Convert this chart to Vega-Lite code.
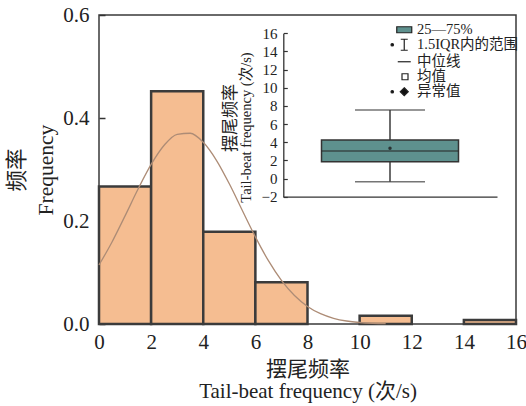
{
  "$schema": "https://vega.github.io/schema/vega-lite/v6.json",
  "width": 417,
  "height": 309,
  "autosize": {"type": "none"},
  "padding": {"left": 99, "top": 15, "right": 10, "bottom": 82},
  "background": "white",
  "config": {
    "view": {"stroke": "#3a3a3a", "strokeWidth": 1.5},
    "font": "Liberation Serif, Noto Sans CJK SC",
    "axis": {
      "labelFont": "Liberation Serif, Noto Sans CJK SC",
      "titleFont": "Liberation Serif, Noto Sans CJK SC",
      "labelColor": "#222222",
      "titleColor": "#222222",
      "titleFontWeight": "normal",
      "grid": false,
      "labelOverlap": false,
      "labelSeparation": 0,
      "labelFlush": false
    }
  },
  "datasets": {
    "hist": [
      {"bin_start": 0, "bin_end": 2, "freq": 0.267},
      {"bin_start": 2, "bin_end": 4, "freq": 0.452},
      {"bin_start": 4, "bin_end": 6, "freq": 0.179},
      {"bin_start": 6, "bin_end": 8, "freq": 0.081},
      {"bin_start": 10, "bin_end": 12, "freq": 0.016},
      {"bin_start": 14, "bin_end": 16, "freq": 0.008}
    ],
    "curve": [
      {"x": 0, "density": 0.1145},
      {"x": 0.5, "density": 0.1593},
      {"x": 1, "density": 0.2099},
      {"x": 1.5, "density": 0.262},
      {"x": 2, "density": 0.3098},
      {"x": 2.5, "density": 0.3471},
      {"x": 3, "density": 0.3684},
      {"x": 3.5, "density": 0.3704},
      {"x": 4, "density": 0.3528},
      {"x": 4.5, "density": 0.3183},
      {"x": 5, "density": 0.2722},
      {"x": 5.5, "density": 0.2204},
      {"x": 6, "density": 0.1691},
      {"x": 6.5, "density": 0.1229},
      {"x": 7, "density": 0.0846},
      {"x": 7.5, "density": 0.0552},
      {"x": 8, "density": 0.0341},
      {"x": 8.5, "density": 0.02},
      {"x": 9, "density": 0.0111},
      {"x": 9.5, "density": 0.0058},
      {"x": 10, "density": 0.0029},
      {"x": 10.5, "density": 0.0014},
      {"x": 11, "density": 0.0006}
    ],
    "box": [
      {"group": "TBF", "lower": -0.35, "q1": 1.85, "median": 3.03, "mean": 3.33, "q3": 4.24, "upper": 7.55}
    ],
    "legendItems": [
      {"item": "25—75%"},
      {"item": "1.5IQR内的范围"},
      {"item": "中位线"},
      {"item": "均值"},
      {"item": "异常值"}
    ]
  },
  "layer": [
    {
      "layer": [
        {
          "data": {"name": "hist"},
          "mark": {"type": "bar", "fill": "#f5bd91", "stroke": "#3b3b3b", "strokeWidth": 2.5},
          "encoding": {
            "x": {
              "field": "bin_start", "type": "quantitative",
              "scale": {"domain": [0, 16], "nice": false},
              "axis": {
                "orient": "bottom", "domain": false, "ticks": false,
                "values": [0, 2, 4, 6, 8, 10, 12, 14, 16],
                "labelFontSize": 21, "labelPadding": 7, "labelOverlap": false,
                "title": ["摆尾频率", "Tail-beat frequency (次/s)"],
                "titleFontSize": 21, "titleLineHeight": 22,
                "titleBaseline": "alphabetic", "titleY": 51, "titleX": 208.5
              }
            },
            "x2": {"field": "bin_end"},
            "y": {
              "field": "freq", "type": "quantitative",
              "scale": {"domain": [0, 0.6], "nice": false},
              "axis": {
                "orient": "left", "domain": false,
                "values": [0, 0.2, 0.4, 0.6], "format": ".1f",
                "tickSize": -6, "tickColor": "#333333", "tickWidth": 1.5,
                "labelFontSize": 21, "labelPadding": 16, "labelOverlap": false,
                "title": ["频率", "Frequency"],
                "titleFontSize": 21.5, "titleLineHeight": 29,
                "titleBaseline": "alphabetic", "titleX": -76, "titleY": 154.5
              }
            },
            "y2": {"datum": 0}
          }
        },
        {
          "data": {"name": "curve"},
          "mark": {"type": "line", "color": "#ad8c76", "strokeWidth": 1.3, "interpolate": "monotone"},
          "encoding": {
            "x": {"field": "x", "type": "quantitative"},
            "y": {"field": "density", "type": "quantitative"}
          }
        }
      ]
    },
    {
      "data": {"name": "box"},
      "resolve": {"axis": {"y": "independent"}},
      "layer": [
        {
          "mark": {"type": "rule", "color": "#3b3b3b", "strokeWidth": 1.5},
          "encoding": {
            "x": {
              "field": "group", "type": "nominal",
              "scale": {"type": "band", "range": [184, 398], "paddingInner": 0, "paddingOuter": 0},
              "axis": {
                "orient": "top", "offset": -181.7, "labels": false, "ticks": false,
                "title": null, "domainColor": "#333333", "domainWidth": 1.3
              }
            },
            "y": {
              "field": "lower", "type": "quantitative",
              "scale": {"domain": [-2, 16], "range": [181.7, 18.3], "nice": false, "zero": false},
              "axis": {
                "orient": "left", "offset": -184.3,
                "values": [-2, 2, 6, 10, 14],
                "tickSize": -4, "tickColor": "#333333", "tickWidth": 1.2,
                "domainColor": "#333333", "domainWidth": 1.3,
                "labelFontSize": 15, "labelPadding": 10.3,
                "labelOverlap": false, "labelBound": false,
                "title": "Tail-beat frequency (次/s)",
                "titleFontSize": 14.5,
                "titleBaseline": "alphabetic", "titleX": -32.3, "titleY": 112
              }
            },
            "y2": {"field": "upper"}
          }
        },
        {
          "mark": {"type": "bar", "size": 137, "fill": "#5e918e", "stroke": "#333333", "strokeWidth": 1.5},
          "encoding": {
            "x": {"field": "group", "type": "nominal"},
            "y": {
              "field": "q1", "type": "quantitative",
              "axis": {
                "orient": "left", "offset": -184.3,
                "values": [0, 4, 8, 12, 16],
                "tickSize": -4, "tickColor": "#333333", "tickWidth": 1.2,
                "domain": false,
                "labelFontSize": 15, "labelPadding": 10.3,
                "labelOverlap": false, "labelBound": false,
                "title": "摆尾频率",
                "titleFontSize": 17,
                "titleBaseline": "alphabetic", "titleX": -48, "titleY": 102.5
              }
            },
            "y2": {"field": "q3"}
          }
        },
        {
          "mark": {"type": "tick", "size": 70, "thickness": 1.5, "color": "#3b3b3b"},
          "encoding": {
            "x": {"field": "group", "type": "nominal"},
            "y": {"field": "upper", "type": "quantitative", "axis": null}
          }
        },
        {
          "mark": {"type": "tick", "size": 70, "thickness": 1.5, "color": "#3b3b3b"},
          "encoding": {
            "x": {"field": "group", "type": "nominal"},
            "y": {"field": "lower", "type": "quantitative", "axis": null}
          }
        },
        {
          "mark": {"type": "tick", "size": 137, "thickness": 1.5, "color": "#2a2a2a"},
          "encoding": {
            "x": {"field": "group", "type": "nominal"},
            "y": {"field": "median", "type": "quantitative", "axis": null}
          }
        },
        {
          "mark": {"type": "point", "filled": true, "size": 12, "color": "#2a3333", "opacity": 1},
          "encoding": {
            "x": {"field": "group", "type": "nominal"},
            "y": {"field": "mean", "type": "quantitative", "axis": null}
          }
        },
        {
          "data": {"name": "legendItems"},
          "mark": {"type": "point", "filled": true, "opacity": 0, "stroke": "#111111"},
          "encoding": {
            "fill": {
              "field": "item", "type": "nominal",
              "scale": {
                "domain": ["25—75%", "1.5IQR内的范围", "中位线", "均值", "异常值"],
                "range": ["#5e918e", "#111111", "#111111", "#ffffff", "#111111"]
              },
              "legend": {
                "orient": "none", "legendX": 298, "legendY": 7.5,
                "title": null, "padding": 0,
                "labelFont": "Liberation Serif, Noto Sans CJK SC",
                "labelFontSize": 14.5, "labelColor": "#222222",
                "labelOffset": 5.5, "symbolSize": 100, "rowPadding": 0,
                "symbolOpacity": 1, "symbolStrokeColor": "#222222", "symbolStrokeWidth": 1.2,
                "encode": {
                  "symbols": {
                    "update": {
                      "fill": {"scale": "fill", "field": "value"},
                      "stroke": {"value": "#222222"},
                      "strokeWidth": {"value": 1.2},
                      "fillOpacity": {"value": 1},
                      "strokeOpacity": {"value": 1},
                      "opacity": {"value": 1}
                    }
                  }
                }
              }
            },
            "shape": {
              "field": "item", "type": "nominal",
              "scale": {
                "domain": ["25—75%", "1.5IQR内的范围", "中位线", "均值", "异常值"],
                "range": [
                  "M-1.5,-0.6H1.5V0.6H-1.5Z",
                  "M-2.65,0A0.25,0.25,0,1,0,-2.15,0A0.25,0.25,0,1,0,-2.65,0ZM-0.7,-1.1H0.7M0,-1.1V1.1M-0.7,1.1H0.7",
                  "M-1.3,0H1.3",
                  "M-0.45,-0.6H0.75V0.6H-0.45Z",
                  "M-2.65,0A0.25,0.25,0,1,0,-2.15,0A0.25,0.25,0,1,0,-2.65,0ZM0,-0.8L0.8,0L0,0.8L-0.8,0Z"
                ]
              }
            }
          }
        }
      ]
    }
  ],
  "resolve": {
    "scale": {"x": "independent", "y": "independent"},
    "axis": {"x": "independent", "y": "independent"}
  }
}
